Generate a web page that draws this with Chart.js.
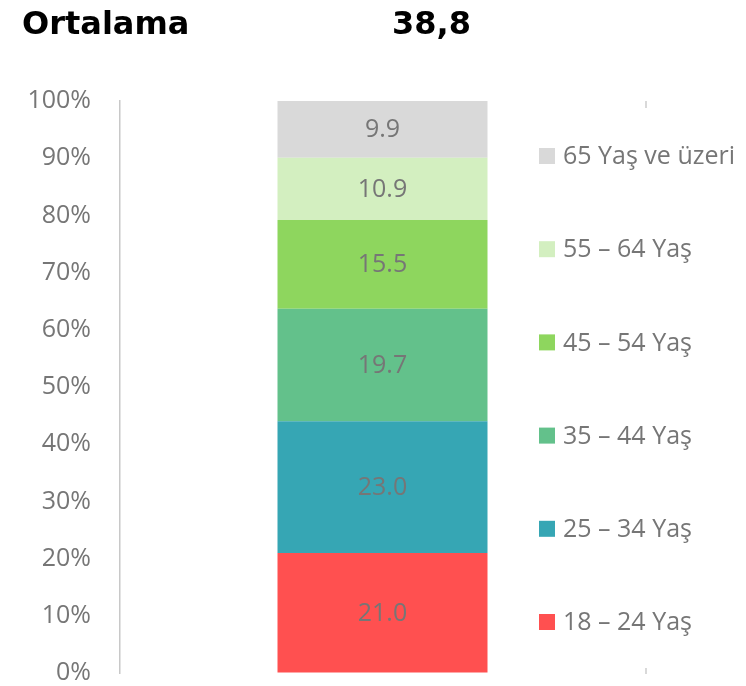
<!DOCTYPE html>
<html>
<head>
<meta charset="utf-8">
<script src="https://cdn.jsdelivr.net/npm/chart.js@4/dist/chart.umd.min.js"></script>
<style>
  html, body { margin: 0; padding: 0; background: #fff; }
  #wrap { position: relative; width: 746px; height: 686px; }
  .head { position: absolute; top: 4px; font: bold 32px "DejaVu Sans", sans-serif; color: #000; }
</style>
</head>
<body>
<div id="wrap">
  <div class="head" style="left:22px">Ortalama</div>
  <div class="head" style="left:392px">38,8</div>
  <canvas id="c" width="746" height="686"></canvas>
</div>
<script>
// veriler (alttan üste)
const categories = ['Toplam'];
const seriesLabels = ['18 – 24 Yaş', '25 – 34 Yaş', '35 – 44 Yaş', '45 – 54 Yaş', '55 – 64 Yaş', '65 Yaş ve üzeri'];
const seriesValues = [21.0, 23.0, 19.7, 15.5, 10.9, 9.9];
const seriesColors = ['#ff5050', '#36a6b4', '#63c18b', '#8ed65e', '#d3efc0', '#d9d9d9'];
const yTicks = [0, 10, 20, 30, 40, 50, 60, 70, 80, 90, 100];

const textGray = '#767676';
const labelFont = '25px "Open Sans", sans-serif';

// segment içindeki değer etiketleri + sağdaki lejant
const labelsPlugin = {
    id: 'segmentLabels',
    afterDatasetsDraw(chart) {
        const ctx = chart.ctx;
        ctx.save();
        ctx.font = labelFont;
        ctx.fillStyle = textGray;
        ctx.textAlign = 'center';
        ctx.textBaseline = 'middle';
        chart.data.datasets.forEach((ds, i) => {
            const el = chart.getDatasetMeta(i).data[0];
            const mid = (el.y + el.base) / 2;
            ctx.fillText(ds.data[0].toFixed(1), el.x, mid + 1);
        });
        ctx.restore();
    },
    afterDraw(chart) {
        const ctx = chart.ctx;
        const area = chart.chartArea;
        ctx.save();
        // küçük iç tik çizgileri (sağ kenar)
        ctx.strokeStyle = '#d9d9d9';
        ctx.lineWidth = 2;
        ctx.beginPath();
        ctx.moveTo(area.right + 1, area.top);
        ctx.lineTo(area.right + 1, area.top + 7);
        ctx.moveTo(area.right + 1, area.bottom - 5);
        ctx.lineTo(area.right + 1, area.bottom + 1);
        ctx.stroke();

        // lejant: üstte 65+, altta 18-24
        ctx.font = labelFont;
        ctx.textAlign = 'left';
        ctx.textBaseline = 'middle';
        const n = chart.data.datasets.length;
        const top = 156, step = 93.2;
        for (let k = 0; k < n; k++) {
            const ds = chart.data.datasets[n - 1 - k];
            const cy = top + k * step;
            ctx.fillStyle = ds.backgroundColor;
            ctx.fillRect(539, cy - 8, 16, 16);
            ctx.fillStyle = textGray;
            ctx.fillText(ds.label, 563, cy + 1);
        }
        ctx.restore();
    }
};

const datasets = seriesLabels.map((label, i) => ({
    label: label,
    data: [seriesValues[i]],
    backgroundColor: seriesColors[i],
    borderWidth: 0,
    barPercentage: 1,
    categoryPercentage: 0.4
}));

new Chart(document.getElementById('c'), {
    type: 'bar',
    data: { labels: categories, datasets: datasets },
    plugins: [labelsPlugin],
    options: {
        responsive: false,
        animation: false,
        layout: { padding: { top: 101, right: 101, left: 0, bottom: 13 } },
        plugins: {
            legend: { display: false },
            tooltip: { enabled: false },
            title: { display: false }
        },
        scales: {
            x: {
                display: false,
                stacked: true
            },
            y: {
                stacked: true,
                min: 0,
                max: 100,
                afterBuildTicks(scale) { scale.ticks = yTicks.map(v => ({ value: v })); },
                // tik çizgisi görünmez, sadece etiketleri eksenden uzaklaştırıyor
                grid: { display: true, drawOnChartArea: false, drawTicks: true, tickLength: 29, tickColor: 'rgba(0,0,0,0)' },
                border: { display: true, color: '#c8c8c8', width: 1.5 },
                ticks: {
                    padding: 0,
                    color: textGray,
                    font: { family: '"Open Sans", sans-serif', size: 25, lineHeight: 1.0 },
                    callback: v => v + '%'
                },
                afterFit(scale) { scale.width = 120; }
            }
        }
    }
});
</script>
</body>
</html>
